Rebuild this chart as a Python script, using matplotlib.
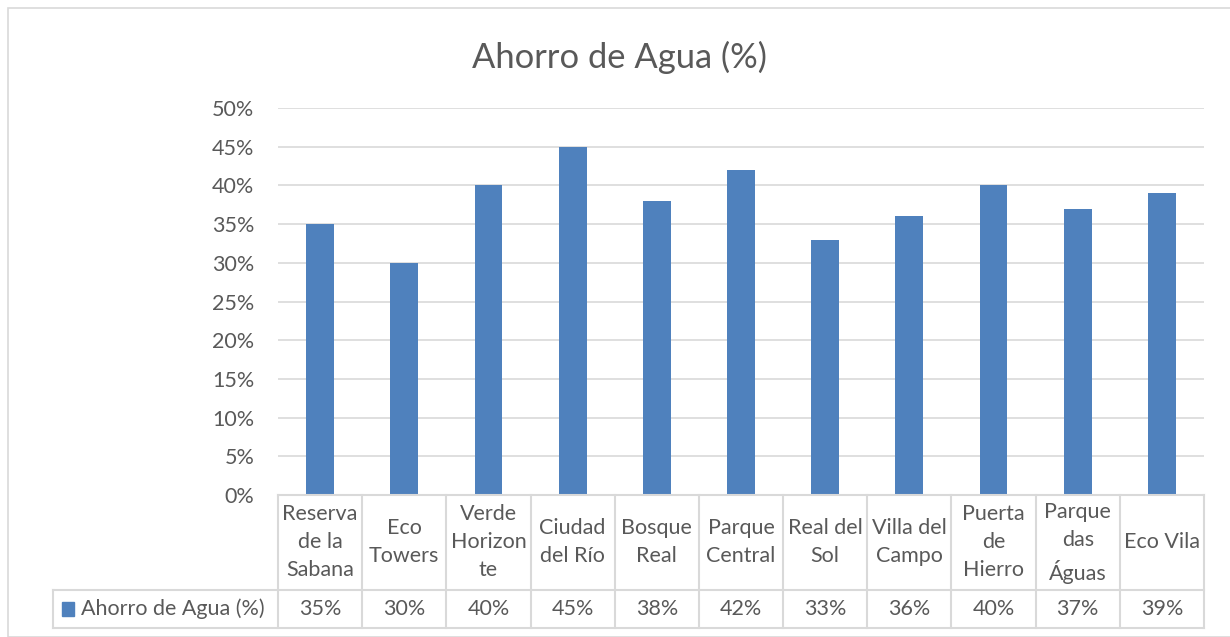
import matplotlib
matplotlib.use("Agg")
import matplotlib.pyplot as plt
from matplotlib.patches import Rectangle
from matplotlib.ticker import FuncFormatter, MultipleLocator

categories = ["Reserva de la Sabana", "Eco Towers", "Verde Horizonte", "Ciudad del Río",
              "Bosque Real", "Parque Central", "Real del Sol", "Villa del Campo",
              "Puerta de Hierro", "Parque das Águas", "Eco Vila"]
display_labels = ["Reserva\nde la\nSabana", "Eco\nTowers", "Verde\nHorizon\nte", "Ciudad\ndel Río",
                  "Bosque\nReal", "Parque\nCentral", "Real del\nSol", "Villa del\nCampo",
                  "Puerta\nde\nHierro", "Parque\ndas\nÁguas", "Eco Vila"]
savings = [35, 30, 40, 45, 38, 42, 33, 36, 40, 37, 39]
series_name = "Ahorro de Agua (%)"
title = "Ahorro de Agua (%)"

BLUE = "#4F81BD"
GRID = "#D9D9D9"
TXT = "#595959"
FONT = ["Lato", "DejaVu Sans"]
plt.rcParams["font.family"] = FONT
FS = 15.5

W, H = 1230, 637
fig = plt.figure(figsize=(W / 100, H / 100), dpi=100)

# chart border
fig.add_artist(Rectangle((8 / W, 0), 1.2, (H - 8) / H, transform=fig.transFigure,
                         fill=False, edgecolor=GRID, lw=1.2))

x0, x1 = 278, 1204
y_top, y_bot = 108, 495
ax = fig.add_axes([x0 / W, 1 - y_bot / H, (x1 - x0) / W, (y_bot - y_top) / H])
n = len(categories)
xs = list(range(n))
ax.bar(xs, savings, width=0.33, color=BLUE, zorder=3)
ax.set_xlim(-0.5, n - 0.5)
ax.set_ylim(0, 50)
ax.yaxis.set_major_locator(MultipleLocator(5))
ax.yaxis.set_major_formatter(FuncFormatter(lambda v, p: f"{v:.0f}%"))
ax.grid(axis="y", color=GRID, lw=1.2, zorder=0)
for s in ax.spines.values():
    s.set_visible(False)
ax.tick_params(axis="y", length=0, pad=17, labelsize=FS, labelcolor=TXT)
ax.tick_params(axis="x", length=0, labelbottom=False)

# data table
tb_bot = 628
tax = fig.add_axes([x0 / W, 1 - tb_bot / H, (x1 - x0) / W, (tb_bot - y_bot) / H])
tax.set_xlim(-0.5, n - 0.5)
tax.set_ylim(0, 1)
tax.axis("off")
split = (tb_bot - 590) / (tb_bot - y_bot)
col_w = (x1 - x0) / n
leg_left = -0.5 - (x0 - 53) / col_w
lk = dict(color=GRID, lw=1.5, clip_on=False)
for i in range(n + 1):
    tax.plot([i - 0.5, i - 0.5], [0, 1], **lk)
tax.plot([-0.5, n - 0.5], [1, 1], **lk)
tax.plot([leg_left, n - 0.5], [split, split], **lk)
tax.plot([leg_left, n - 0.5], [0, 0], **lk)
tax.plot([leg_left, leg_left], [0, split], **lk)
for i, (lab, v) in enumerate(zip(display_labels, savings)):
    tax.text(i, (1 + split) / 2, lab, ha="center", va="center", fontsize=FS,
             color=TXT, linespacing=1.5, clip_on=False)
    tax.text(i, split / 2, f"{v}%", ha="center", va="center", fontsize=FS,
             color=TXT, clip_on=False)
# legend key in table
kx = leg_left + 9 / col_w
tax.add_patch(Rectangle((kx, split / 2 - 0.05), 12 / col_w, 0.1, color=BLUE, clip_on=False))
tax.text(kx + 19 / col_w, split / 2, series_name, ha="left", va="center", fontsize=FS,
         color=TXT, clip_on=False)

fig.text(619 / W, 1 - 57 / H, title, ha="center", va="center", fontsize=24.8, color=TXT)

fig.savefig("out.png", dpi=100, facecolor="white")
